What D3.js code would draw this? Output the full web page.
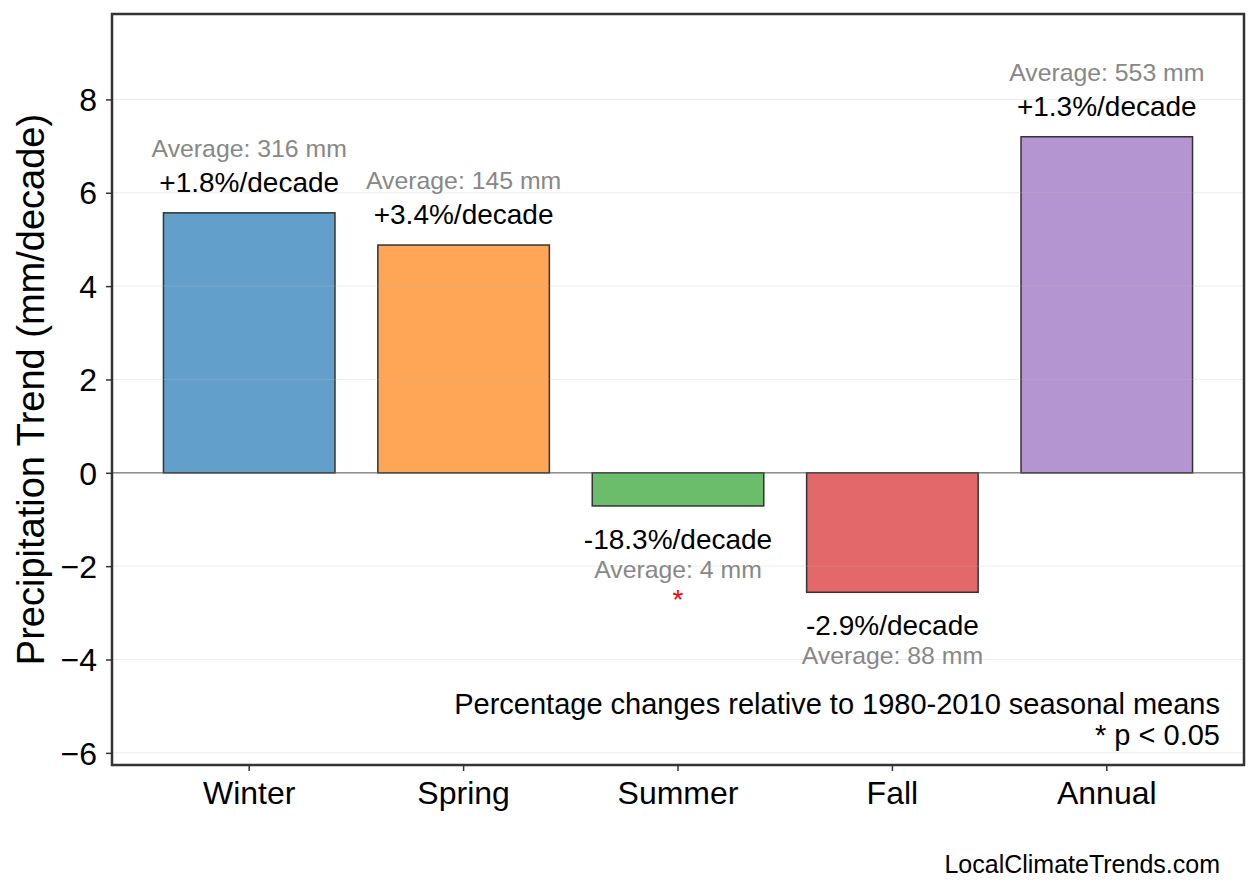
<!DOCTYPE html>
<html>
<head>
<meta charset="utf-8">
<script src="https://cdn.jsdelivr.net/npm/d3@7"></script>
<style>
  body { margin: 0; background: #fff; }
  svg { display: block; font-family: "Liberation Sans", Arial, Helvetica, sans-serif; }
</style>
</head>
<body>
<svg></svg>
<script>
// chart data
const seasons = ["Winter", "Spring", "Summer", "Fall", "Annual"];
const trends = [5.57, 4.88, -0.71, -2.56, 7.2];          // mm/decade
const pctLabels = ["+1.8%/decade", "+3.4%/decade", "-18.3%/decade", "-2.9%/decade", "+1.3%/decade"];
const averages = [316, 145, 4, 88, 553];                  // mm
const significant = [false, false, true, false, false];
const colors = ["#62a0cb", "#ffa556", "#6bbc6b", "#e26869", "#b495d1"];
const yTicks = [-6, -4, -2, 0, 2, 4, 6, 8];

const svgWidth = 1258;
const svgHeight = 893;
const margin = { top: 14, right: 14, bottom: 128, left: 112 };

const svg = d3.select("svg")
    .attr("width", svgWidth)
    .attr("height", svgHeight);

// scales
const xScale = d3.scaleBand()
    .domain(seasons)
    .range([margin.left, svgWidth - margin.right])
    .paddingInner(0.2)
    .paddingOuter(0.24);

const yScale = d3.scaleLinear()
    .domain([-6.26, 9.83])
    .range([svgHeight - margin.bottom, margin.top]);

const data = seasons.map((s, i) => ({
    season: s, value: trends[i], pct: pctLabels[i],
    avg: averages[i], sig: significant[i], color: colors[i]
}));

// zero line
svg.append("line")
    .attr("x1", margin.left).attr("x2", svgWidth - margin.right)
    .attr("y1", yScale(0)).attr("y2", yScale(0))
    .attr("stroke", "#888").attr("stroke-width", 1.5);

// bars
svg.selectAll(".bar")
    .data(data)
    .enter().append("rect")
    .attr("class", "bar")
    .attr("x", d => xScale(d.season))
    .attr("width", xScale.bandwidth())
    .attr("y", d => yScale(Math.max(0, d.value)))
    .attr("height", d => Math.abs(yScale(d.value) - yScale(0)))
    .attr("fill", d => d.color)
    .attr("stroke", "#333")
    .attr("stroke-width", 1.5);

// light grid on top of bars
svg.append("g")
    .selectAll("line")
    .data(yTicks)
    .enter().append("line")
    .attr("x1", margin.left).attr("x2", svgWidth - margin.right)
    .attr("y1", d => yScale(d)).attr("y2", d => yScale(d))
    .attr("stroke", "#bbb").attr("stroke-opacity", 0.25).attr("stroke-width", 1);

// bar labels
const cx = d => xScale(d.season) + xScale.bandwidth() / 2;
const labels = svg.append("g").attr("text-anchor", "middle");

data.forEach(d => {
    const pos = d.value >= 0;
    const edge = yScale(d.value);
    const pctY = pos ? edge - 21 : edge + 43;
    const avgY = pos ? pctY - 35 : pctY + 29;
    labels.append("text")
        .attr("x", cx(d)).attr("y", pctY)
        .attr("font-size", 28).attr("fill", "#000")
        .text(d.pct);
    labels.append("text")
        .attr("x", cx(d)).attr("y", avgY)
        .attr("font-size", 24.8).attr("fill", "#888")
        .text(`Average: ${d.avg} mm`);
    if (d.sig) {
        labels.append("text")
            .attr("x", cx(d)).attr("y", (pos ? pctY - 60 : avgY + 31))
            .attr("font-size", 28).attr("fill", "red")
            .text("*");
    }
});

// axes
const xAxis = svg.append("g")
    .attr("transform", `translate(0,${svgHeight - margin.bottom})`)
    .call(d3.axisBottom(xScale).tickSize(6).tickPadding(9));

const yAxis = svg.append("g")
    .attr("transform", `translate(${margin.left},0)`)
    .call(d3.axisLeft(yScale).tickValues(yTicks).tickSize(6).tickPadding(9)
        .tickFormat(d => d < 0 ? "\u2212" + Math.abs(d) : d));

[xAxis, yAxis].forEach(g => {
    g.select(".domain").remove();
    g.selectAll(".tick line").attr("stroke", "#333").attr("stroke-width", 1.5);
    g.selectAll(".tick text").attr("fill", "#000").attr("font-size", 32)
        .attr("font-family", "Liberation Sans, Arial, sans-serif");
});
yAxis.selectAll(".tick text").attr("dy", "0.35em");
xAxis.selectAll(".tick text").attr("dy", "0.74em");

// frame
svg.append("rect")
    .attr("x", margin.left).attr("y", margin.top)
    .attr("width", svgWidth - margin.left - margin.right)
    .attr("height", svgHeight - margin.top - margin.bottom)
    .attr("fill", "none").attr("stroke", "#333").attr("stroke-width", 2.5);

// y axis title
svg.append("text")
    .attr("transform", `translate(44,${(margin.top + svgHeight - margin.bottom) / 2}) rotate(-90)`)
    .attr("text-anchor", "middle")
    .attr("font-size", 38)
    .text("Precipitation Trend (mm/decade)");

// notes
svg.append("text")
    .attr("x", 1220).attr("y", 714)
    .attr("text-anchor", "end").attr("font-size", 29)
    .text("Percentage changes relative to 1980-2010 seasonal means");
svg.append("text")
    .attr("x", 1220).attr("y", 745)
    .attr("text-anchor", "end").attr("font-size", 29)
    .text("* p < 0.05");

svg.append("text")
    .attr("x", 1220).attr("y", 873)
    .attr("text-anchor", "end").attr("font-size", 25)
    .text("LocalClimateTrends.com");
</script>
</body>
</html>
